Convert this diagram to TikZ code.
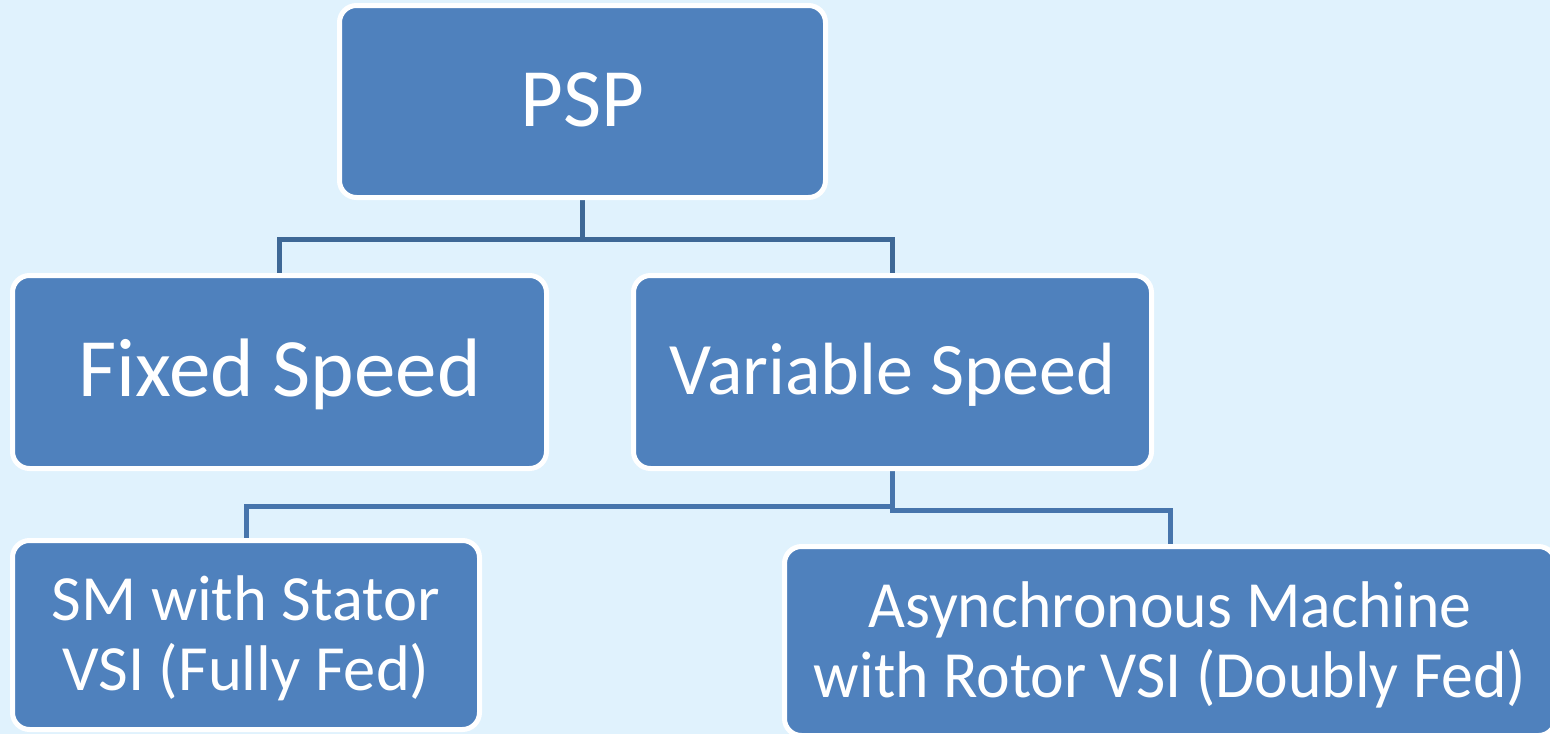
\documentclass[tikz,border=0pt]{standalone}
\usepackage{fontspec}
\setmainfont{Carlito}
\newfontfamily\narrowfont{Carlito}[FakeStretch=0.965]
\definecolor{bgblue}{RGB}{224,242,253}
\definecolor{boxblue}{RGB}{79,129,189}
\definecolor{linktop}{RGB}{62,104,150}
\definecolor{linkbot}{RGB}{71,117,172}
\pgfdeclarelayer{bg}\pgfdeclarelayer{mid}\pgfsetlayers{bg,mid,main}
\tikzset{
  box/.style={draw=white, line width=5pt, fill=boxblue, rounded corners=17pt,
    text=white, align=center, inner sep=0pt},
  linkA/.style={draw=linktop, line width=5pt},
  linkB/.style={draw=linkbot, line width=5pt},
}
\begin{document}
\begin{tikzpicture}[x=1pt,y=-1pt]
\useasboundingbox (0,0) rectangle (1550,734);
\begin{pgfonlayer}{bg}
\fill[bgblue] (0,0) rectangle (1550,734);
\end{pgfonlayer}
\clip (0,0) rectangle (1550,734);
\node[box, minimum width=486pt, minimum height=192pt, font=\fontsize{83}{90}\selectfont,
  text height=49pt, text depth=0pt] (psp) at (582.5,101.5) {PSP};
\node[box, minimum width=534pt, minimum height=193pt, font=\fontsize{83}{90}\selectfont,
  text height=48pt, text depth=0pt] (fixed) at (279.5,372) {Fixed Speed};
\node[box, minimum width=518pt, minimum height=193pt, font=\fontsize{74}{80}\selectfont,
  text height=44pt, text depth=0pt] (var) at (892.5,372) {Variable Speed};
\node[box, minimum width=467pt, minimum height=189pt, font=\fontsize{64.5}{70}\selectfont,
  text height=110pt, text depth=0pt]
  (sm) at (246,635) {\begin{tabular}[b]{@{}c@{}}SM with Stator\\VSI (Fully Fed)\end{tabular}};
\node[box, minimum width=771pt, minimum height=189pt, font=\narrowfont\fontsize{66}{70}\selectfont,
  text height=112pt, text depth=0pt]
  (async) at (1170,641) {\begin{tabular}[b]{@{}c@{}}Asynchronous Machine\\with Rotor VSI (Doubly Fed)\end{tabular}};
\begin{pgfonlayer}{mid}
\draw[linkA] (psp.south) -- ++(0,39.5) -| (fixed.north);
\draw[linkA] (psp.south) -- ++(0,39.5) -| (var.north);
\draw[linkB] (var.south) -- ++(0,35.5) -| (sm.north);
\draw[linkB] (var.south) -- ++(0,39.5) -| (async.north);
\end{pgfonlayer}
\end{tikzpicture}
\end{document}
